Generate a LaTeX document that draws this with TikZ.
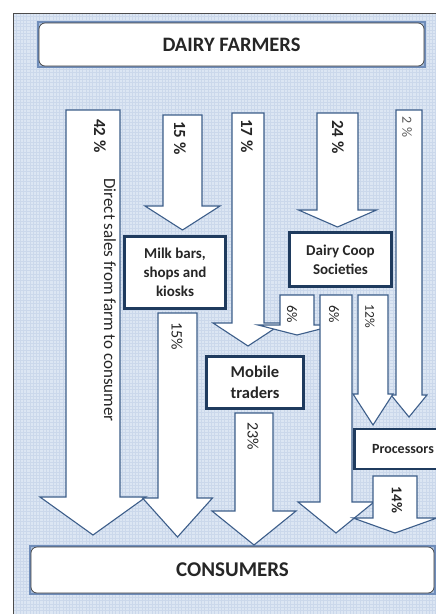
\documentclass[tikz,border=0pt]{standalone}
\usepackage{fontspec}
\setmainfont{Carlito}
\definecolor{bgc}{HTML}{DCE6F3}
\definecolor{gridc}{HTML}{CBD8EB}
\definecolor{arrowc}{HTML}{3D5E8A}
\definecolor{navyc}{HTML}{1F3B5E}
\definecolor{framec}{HTML}{6F8DBA}
\definecolor{framefill}{HTML}{A9BEDC}
\definecolor{textc}{HTML}{262626}
\definecolor{greyc}{HTML}{595959}
\newcommand\blockarrow[6]{% cx, top, shaft half width, head y, head half width, tip y
  \draw[barrow] ({#1-#3},#2) -- ({#1-#3},#4) -- ({#1-#5},#4) -- (#1,#6)
    -- ({#1+#5},#4) -- ({#1+#3},#4) -- ({#1+#3},#2) -- cycle;}
\tikzset{
  barrow/.style={draw=arrowc, fill=white, line width=1.1pt, line join=miter},
  navybox/.style={draw=navyc, fill=white, line width=2.8pt, align=center,
    text=textc, inner sep=0pt, font=\bfseries\fontsize{15}{19}\selectfont},
  titlebox/.style={draw=black!75, fill=white, line width=0.7pt, rounded corners=6pt,
    inner sep=0pt, text=textc, font=\bfseries\fontsize{20.5}{23}\selectfont},
  pctb/.style={rotate=-90, inner sep=0pt, text=textc, font=\bfseries\fontsize{17}{20}\selectfont},
  pctr/.style={rotate=-90, inner sep=0pt, text=textc, font=\fontsize{16}{19}\selectfont},
}
\begin{document}
\begin{tikzpicture}[x=1pt,y=-1pt]
\useasboundingbox (0,0) rectangle (436,614);
\clip (0,0) rectangle (436,614);
% background panel
\fill[white] (0,0) rectangle (436,614);
\fill[bgc] (13,13) rectangle (440,620);
\draw[gridc, line width=0.3pt, step=3.3pt] (13,13) grid (440,620);
\draw[black!70, line width=0.8pt] (13,620) -- (13,13) -- (440,13);
% title boxes
\fill[framefill, draw=framec, line width=2.5pt] (38,22) rectangle (425,67);
\node[titlebox, minimum width=385pt, minimum height=43pt] (farmers) at (231.5,44.5) {DAIRY FARMERS};
\fill[framefill, draw=framec, line width=2.5pt] (30,546) rectangle (435,594);
\node[titlebox, minimum width=403pt, minimum height=46pt, font=\bfseries\fontsize{21}{24}\selectfont] (consumers) at (232.5,570) {CONSUMERS};
% block arrows
\blockarrow{93}{110}{27}{497}{53}{535}
\blockarrow{177.5}{313}{19.5}{498}{35}{537}
\blockarrow{248}{113}{16}{323}{35}{346}
\blockarrow{297}{295}{17}{325}{39}{335}
\blockarrow{336}{295}{16}{502}{38}{533}
\blockarrow{409}{110}{13}{395}{18}{417}
\blockarrow{373}{295}{15}{394}{20}{425}
\blockarrow{395}{476}{22}{518}{42}{533}
\blockarrow{254}{413}{19}{511}{42}{545}
\blockarrow{337.5}{113}{20.5}{210}{39}{227}
\blockarrow{182.5}{115}{19.5}{206}{37.5}{230}
% intermediary boxes
\node[navybox, minimum width=101pt, minimum height=72pt] (milk) at (175,272.5) {Milk bars,\\shops and\\kiosks};
\node[navybox, minimum width=102pt, minimum height=54pt] (coop) at (340.5,259.5) {Dairy Coop\\Societies};
\node[navybox, minimum width=97pt, minimum height=52pt, font=\bfseries\fontsize{16.5}{21}\selectfont] (mobile) at (255,382.5) {Mobile\\traders};
\node[navybox, minimum width=97pt, minimum height=40pt, font=\bfseries\fontsize{14}{17}\selectfont] (proc) at (403,449) {Processors};
% labels
\node[pctb] (l42) at (100,136) {42 \%};
\node[rotate=-90, inner sep=0pt, text=textc, font=\fontsize{17}{20}\selectfont] (ldirect) at (110,300) {Direct sales from farm to consumer};
\node[pctb] (l15a) at (180,138) {15 \%};
\node[pctb] (l17) at (247,136) {17 \%};
\node[pctb] (l24) at (338,137) {24 \%};
\node[rotate=-90, inner sep=0pt, text=greyc, font=\fontsize{14}{17}\selectfont] (l2) at (407,127) {2 \%};
\node[pctr] (l15b) at (177,336) {15\%};
\node[pctr, font=\fontsize{14.5}{17}\selectfont] (l6a) at (292,314) {6\%};
\node[pctr, font=\fontsize{14.5}{17}\selectfont] (l6b) at (334,314) {6\%};
\node[pctr, font=\fontsize{13.5}{17}\selectfont] (l12) at (370,316) {12\%};
\node[pctr] (l23) at (253,436) {23\%};
\node[pctb, font=\bfseries\fontsize{15}{18}\selectfont] (l14) at (397,500) {14\%};
\end{tikzpicture}
\end{document}
